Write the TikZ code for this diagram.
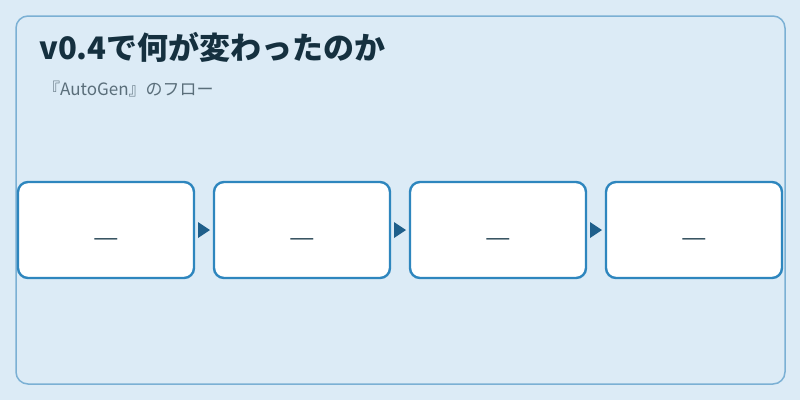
\documentclass[tikz,border=0pt]{standalone}
\usepackage{fontspec}
\setmainfont{Noto Sans CJK JP}
\usetikzlibrary{arrows.meta,calc}
\definecolor{bgc}{HTML}{DCEBF6}
\definecolor{framec}{HTML}{7BB0D4}
\definecolor{boxc}{HTML}{2E86BE}
\definecolor{arrc}{HTML}{1F5F8B}
\definecolor{titlec}{HTML}{15303F}
\definecolor{subc}{HTML}{5A6E7A}
\definecolor{dashc}{HTML}{1A3A4A}
\tikzset{
  stepbox/.style={draw=boxc, line width=2.4pt, fill=white, rounded corners=10pt, minimum width=176pt, minimum height=96pt, inner sep=0pt},
  flowarrow/.style={fill=arrc, draw=none},
  dashtext/.style={text=dashc, font=\fontsize{22pt}{24pt}\selectfont, inner sep=0pt},
}
\begin{document}
\begin{tikzpicture}[x=1pt,y=-1pt]
\fill[bgc] (0,0) rectangle (800,400);
\useasboundingbox (0,0) rectangle (800,400);
\draw[framec, line width=1.5pt, rounded corners=12pt] (16,16) rectangle (785,384);
\node[anchor=base west, inner sep=0pt, text=titlec, font=\fontsize{31pt}{34pt}\selectfont\bfseries] (title) at (39,59) {v0.4で何が変わったのか};
\node[anchor=base west, inner sep=0pt, text=subc, font=\fontsize{17pt}{20pt}\selectfont] (sub) at (43,95) {『AutoGen』のフロー};
\foreach \i/\x in {1/106,2/302,3/498,4/694}{
  \node[stepbox] (b\i) at (\x,230) {};
  \node[dashtext] (d\i) at (\x,242) {\scalebox{1.3}[1]{—}};
}
\foreach \a/\b in {1/2,2/3,3/4}{
  \coordinate (m\a) at ($(b\a.east)!0.5!(b\b.west)$);
  \fill[flowarrow] ([xshift=-6pt,yshift=-8pt]m\a) -- ([xshift=6pt]m\a) -- ([xshift=-6pt,yshift=8pt]m\a) -- cycle;
}
\end{tikzpicture}
\end{document}
